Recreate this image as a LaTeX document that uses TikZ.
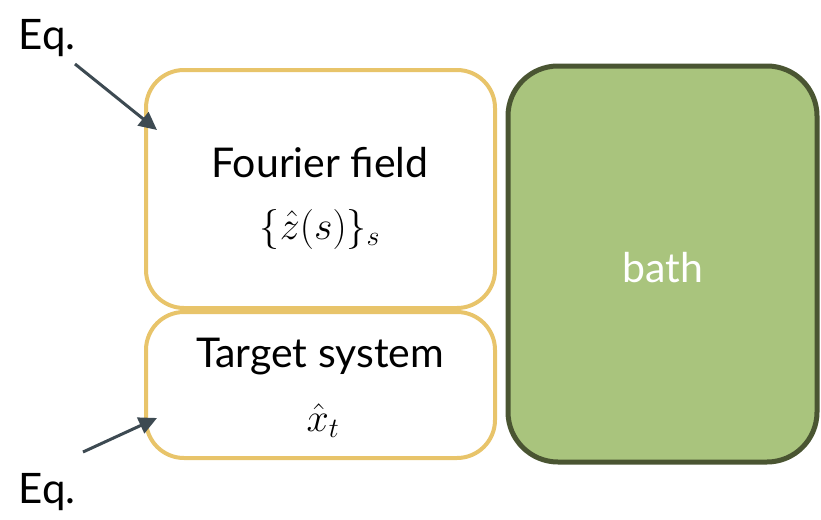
\documentclass[tikz,border=0pt]{standalone}
\usepackage{fix-cm}
\usepackage{fontspec}
\setmainfont{Lato}
\usetikzlibrary{arrows.meta}
\definecolor{boxyellow}{HTML}{E8C46A}
\definecolor{bathfill}{HTML}{A9C47D}
\definecolor{bathline}{HTML}{4A5532}
\definecolor{arrowcol}{HTML}{3D4A52}
\tikzset{
  ybox/.style={draw=boxyellow, line width=4pt, rounded corners=38pt, fill=white},
  bathbox/.style={draw=bathline, fill=bathfill, line width=5pt, rounded corners=50pt},
  lbl/.style={font=\fontsize{41}{46}\selectfont, text=black, inner sep=0pt},
  mlbl/.style={font=\fontsize{40}{46}\selectfont, text=black, inner sep=0pt},
  eqlbl/.style={font=\fontsize{42}{48}\selectfont, text=black, inner sep=0pt},
  feed/.style={draw=arrowcol, line width=3pt, -{Triangle[length=18pt,width=17pt]}}
}
\begin{document}
\begin{tikzpicture}[x=1pt,y=-1pt]
\useasboundingbox (0,0) rectangle (821,519);
\draw[ybox] (146,70) rectangle (495,308);
\draw[ybox] (146,312) rectangle (495,458);
\draw[bathbox] (508,66) rectangle (817,462);
\node[lbl] (ff) at (320,163) {Fourier field};
\node[mlbl] (zs) at (320,229) {$\{\hat z(s)\}_s$};
\node[lbl] (ts) at (320,357) {Target system};
\node[mlbl] (xt) at (323,421) {$\hat x_t$};
\node[lbl, text=white] (bath) at (663,268) {bath};
\node[eqlbl] (eq1) at (47,38) {Eq.};
\node[eqlbl] (eq2) at (47,492) {Eq.};
\coordinate (s1) at (75,64);
\coordinate (t1) at (157,130);
\coordinate (s2) at (83,452);
\coordinate (t2) at (157,418);
\draw[feed] (s1) -- (t1);
\draw[feed] (s2) -- (t2);
\end{tikzpicture}
\end{document}
